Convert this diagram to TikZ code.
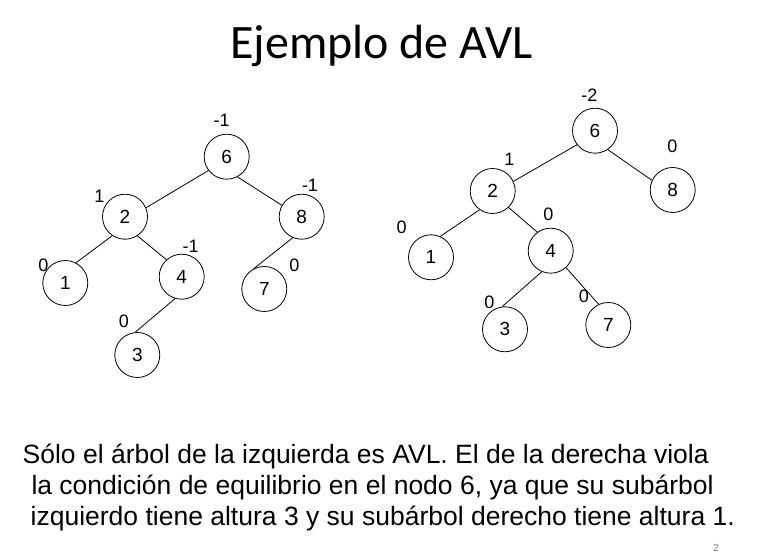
\documentclass[tikz,border=0pt]{standalone}
\usepackage{fontspec}
\setmainfont{Liberation Sans}
\newfontfamily\titlefont{Carlito}
\begin{document}
\begin{tikzpicture}[x=1pt,y=-1pt,
  tnode/.style={draw,circle,minimum size=45pt,inner sep=0pt,line width=0.8pt,font=\fontsize{19}{21}\selectfont},
  bal/.style={inner sep=0pt,font=\fontsize{18}{20}\selectfont},
  edge/.style={line width=0.8pt},
  body/.style={anchor=base west,inner sep=0pt,font=\fontsize{26.5}{30}\selectfont}]
\useasboundingbox[fill=white] (0,0) rectangle (761,556);
\node[font=\titlefont\fontsize{48}{54}\selectfont,anchor=base] (title) at (381.5,58.3) {Ejemplo de AVL};
% left tree
\node[tnode] (a6) at (226.7,156.7) {6};
\node[tnode] (a2) at (125,216.7) {2};
\node[tnode] (a8) at (301.7,216.7) {8};
\node[tnode] (a1) at (65.3,283) {1};
\node[tnode] (a4) at (181.7,276.7) {4};
\node[tnode] (a7) at (264.3,289) {7};
\node[tnode] (a3) at (137.3,355) {3};
\draw[edge] (a6.217) -- (a2.23);
\draw[edge] (a6.298) -- (a8.150);
\draw[edge] (a2.236) -- (a1.62);
\draw[edge] (a2.303) -- (a4.132);
\draw[edge] (a8.247) -- (a7.118);
\draw[edge] (a4.253) -- (a3.95);
\node[bal] (la6) at (221.7,120.7) {-1};
\node[bal] (la2) at (99.3,196.7) {1};
\node[bal] (la8) at (310,185) {-1};
\node[bal] (la1) at (43.3,265.5) {0};
\node[bal] (la4) at (190.7,246.7) {-1};
\node[bal] (la7) at (294.3,265) {0};
\node[bal] (la3) at (124,321.7) {0};
% right tree
\node[tnode] (b6) at (595,130.7) {6};
\node[tnode] (b2) at (492.7,191) {2};
\node[tnode] (b8) at (672.7,190) {8};
\node[tnode] (b1) at (431,257.3) {1};
\node[tnode] (b4) at (550.7,250.7) {4};
\node[tnode] (b3) at (505,329.3) {3};
\node[tnode] (b7) at (608.3,325) {7};
\draw[edge] (b6.218) -- (b2.25);
\draw[edge] (b6.304) -- (b8.155);
\draw[edge] (b2.235) -- (b1.66);
\draw[edge] (b2.314) -- (b4.126);
\draw[edge] (b4.247) -- (b3.97);
\draw[edge] (b4.312) -- (b7.115);
\node[bal] (lb6) at (589.3,95) {-2};
\node[bal] (lb8) at (672.3,146) {0};
\node[bal] (lb2) at (509.3,159.3) {1};
\node[bal] (lb4) at (548.3,214) {0};
\node[bal] (lb1) at (401.7,227.3) {0};
\node[bal] (lb3) at (489.3,302.7) {0};
\node[bal] (lb7) at (584,296.7) {0};
% text
\node[body] (t1) at (22.5,463.5) {Sólo el árbol de la izquierda es AVL. El de la derecha viola};
\node[body] (t2) at (31.3,494.5) {la condición de equilibrio en el nodo 6, ya que su subárbol};
\node[body] (t3) at (30.5,525.5) {izquierdo tiene altura 3 y su subárbol derecho tiene altura 1.};
\node[inner sep=0pt,text=black!50,font=\titlefont\fontsize{11}{12}\selectfont] (pg) at (716,548) {2};
\end{tikzpicture}
\end{document}
